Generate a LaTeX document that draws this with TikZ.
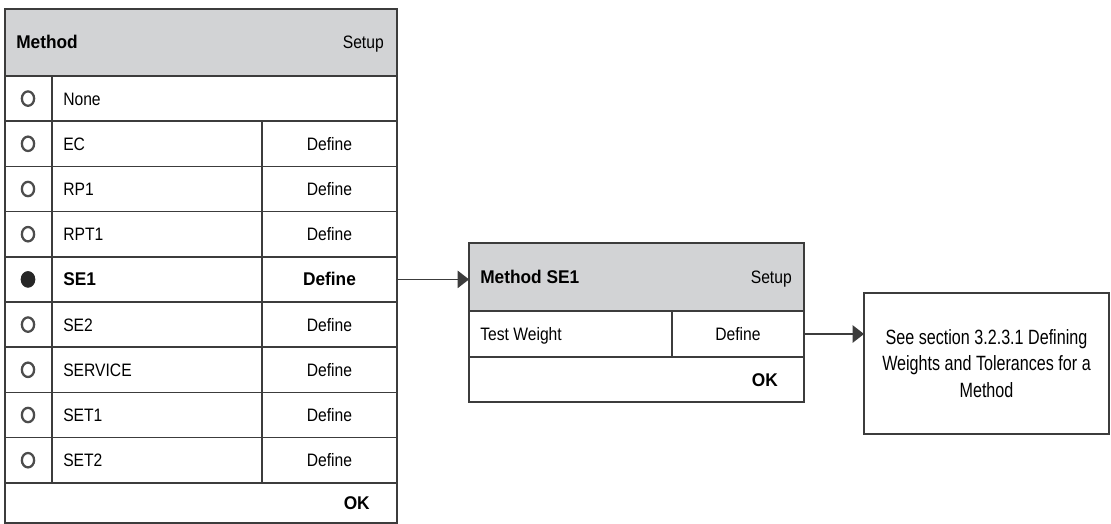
\documentclass[tikz,border=0pt]{standalone}
\usepackage{fontspec}
\setmainfont{Liberation Sans}[FakeStretch=0.87, BoldFeatures={FakeStretch=0.94}]
\newfontfamily\notefont{Liberation Sans}[FakeStretch=0.78]
\usetikzlibrary{arrows.meta}
\definecolor{hdrgray}{RGB}{210,211,213}
\definecolor{linegray}{RGB}{60,60,60}

\begin{document}
\begin{tikzpicture}[
    x=0.75pt, y=-0.75pt,
    cell/.style={draw=linegray, line width=1.1pt, inner sep=0pt, outer sep=0pt, anchor=north west, minimum height=33.9pt},
    hdr/.style={cell, fill=hdrgray, minimum height=50.25pt},
    txt/.style={font=\fontsize{13.5}{16}\selectfont, inner sep=0pt},
    bld/.style={font=\fontsize{13.8}{16}\selectfont\bfseries, inner sep=0pt},
    radio/.style={draw=black!70, line width=1.7pt, fill=white},
    link/.style={draw=linegray, line width=1.1pt, -{Triangle[length=8.5pt,width=13pt]}}
]
    \useasboundingbox (0,0) rectangle (1111,524);

    % Method list
    \node[hdr, minimum width=294pt] (mhdr) at (5,9) {};
    \node[bld, anchor=base west] (mtitle) at (16,49) {Method};
    \node[txt, anchor=base east] (msetup) at (384,49) {Setup};

    \node[cell, minimum width=35.25pt] (rb0) at (5,76) {};
    \node[cell, minimum width=258.75pt] (row0) at (52,76) {};
    \node[txt, anchor=base west] (lbl0) at (63,105.1) {None};
    \draw[radio] (28,98.6) ellipse [x radius=4.6pt, y radius=5.4pt];

    \foreach \name/\k/\st in {EC/1/txt, RP1/2/txt, RPT1/3/txt, SE1/4/bld, SE2/5/txt, SERVICE/6/txt, SET1/7/txt, SET2/8/txt} {
        \pgfmathsetmacro{\y}{76+45.2*\k}
        \pgfmathsetmacro{\yc}{\y+22.6}
        \node[cell, minimum width=35.25pt] (rb\k) at (5,\y) {};
        \node[cell, minimum width=157.5pt] (row\k) at (52,\y) {};
        \node[cell, minimum width=101.25pt] (def\k) at (262,\y) {};
        \node[\st, anchor=base west] (lbl\k) at (63,\yc+6.5) {\name};
        \node[\st, anchor=base] (dlbl\k) at (329.5,\yc+6.5) {Define};
        \draw[radio] (28,\yc) ellipse [x radius=4.6pt, y radius=5.4pt];
    }
    % Selected
    \fill[black!85] (28,279.4) ellipse [x radius=5.4pt, y radius=6pt];

    \node[cell, minimum width=294pt, minimum height=30pt] (okrow) at (5,483) {};
    \node[bld, anchor=base east] (ok1) at (370,509.5) {OK};

    % Method SE1
    \node[hdr, minimum width=251.25pt, minimum height=51pt] (shdr) at (469,243) {};
    \node[bld, anchor=base west] (stitle) at (480,283.5) {Method SE1};
    \node[txt, anchor=base east] (ssetup) at (792,283.5) {Setup};
    \node[cell, minimum width=152.25pt, minimum height=34.5pt] (tw) at (469,311) {};
    \node[cell, minimum width=99pt, minimum height=34.5pt] (twdef) at (672,311) {};
    \node[txt, anchor=base west] (twlbl) at (480,340.5) {Test Weight};
    \node[txt, anchor=base] (twdlbl) at (738,340.5) {Define};
    \node[cell, minimum width=251.25pt, minimum height=33.75pt] (okrow2) at (469,357) {};
    \node[bld, anchor=base east] (ok2) at (778,386) {OK};

    % Reference
    \node[cell, minimum width=183.75pt, minimum height=105.75pt, align=center,
          font=\notefont\fontsize{15.5}{20}\selectfont] (see) at (864,293)
          {See section 3.2.3.1 Defining\\Weights and Tolerances for a\\Method};

    % Links
    \draw[link] (def4.east) -- (shdr.west |- def4.east);
    \draw[link] (twdef.east) -- (see.west |- twdef.east);
\end{tikzpicture}
\end{document}
